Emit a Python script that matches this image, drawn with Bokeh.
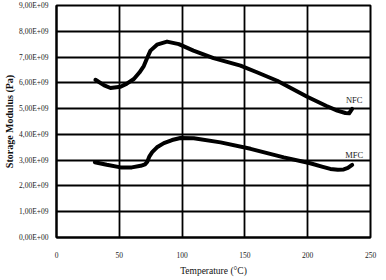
from bokeh.plotting import figure
from bokeh.models import CustomJSTickFormatter, FixedTicker, Range1d
from bokeh.embed import file_html
from bokeh.resources import INLINE
from bokeh.core.properties import value

nfc_temp = [31, 38, 43, 51, 56, 61.6, 66, 69.5, 72.5, 74.8, 80, 88, 97.4, 109, 125, 146.5, 160, 175.7, 199.6, 215, 223.5, 230, 233, 235.4]
nfc_mod = [6.12e9, 5.9e9, 5.8e9, 5.85e9, 5.97e9, 6.15e9, 6.4e9, 6.65e9, 7.0e9, 7.25e9, 7.48e9, 7.6e9, 7.5e9, 7.25e9, 6.96e9, 6.67e9, 6.4e9, 6.08e9, 5.46e9, 5.1e9, 4.92e9, 4.83e9, 4.82e9, 4.99e9]

mfc_temp = [30.5, 40, 51, 60, 67, 70.5, 72.2, 74, 76.2, 80, 85.5, 92, 98.7, 109.3, 130.6, 154.5, 181, 202, 212, 218, 224, 228.7, 232, 235.4]
mfc_mod = [2.92e9, 2.82e9, 2.72e9, 2.72e9, 2.78e9, 2.84e9, 2.93e9, 3.15e9, 3.31e9, 3.5e9, 3.66e9, 3.78e9, 3.86e9, 3.85e9, 3.69e9, 3.44e9, 3.11e9, 2.88e9, 2.74e9, 2.66e9, 2.63e9, 2.64e9, 2.7e9, 2.82e9]

x_ticks = [0, 50, 100, 150, 200, 250]
y_ticks = [0, 1e9, 2e9, 3e9, 4e9, 5e9, 6e9, 7e9, 8e9, 9e9]
series_labels = ["NFC", "MFC"]
label_pos_t = [237, 237]
label_pos_v = [5.35e9, 3.2e9]

FONT = "Liberation Serif"

p = figure(width=386, height=280, output_backend="svg", toolbar_location=None,
           x_range=Range1d(0, 250), y_range=Range1d(0, 9e9),
           min_border_left=56, min_border_right=16, min_border_top=5, min_border_bottom=43)
p.background_fill_color = "white"
p.border_fill_color = "white"
p.outline_line_color = "black"
p.outline_line_width = 2

p.xaxis.ticker = FixedTicker(ticks=x_ticks)
p.yaxis.ticker = FixedTicker(ticks=y_ticks)
p.yaxis.formatter = CustomJSTickFormatter(code="""
    var v = (tick/1e9).toFixed(2).replace('.', ',');
    return v + (tick == 0 ? 'E+00' : 'E+09');
""")

for ax in (p.xaxis[0], p.yaxis[0]):
    ax.axis_line_color = "black"
    ax.axis_line_width = 2
    ax.major_tick_line_color = None
    ax.minor_tick_line_color = None
    ax.major_label_text_font = FONT
    ax.major_label_text_font_size = "7.5px"
    ax.major_label_text_color = "#222222"
    ax.axis_label_text_font = FONT
    ax.axis_label_text_font_style = "normal"
    ax.axis_label_text_color = "#111111"

p.xaxis.axis_label = "Temperature (°C)"
p.xaxis.axis_label_text_font_size = "9.5px"
p.xaxis.major_label_standoff = 8
p.xaxis.axis_label_standoff = 5
p.yaxis.axis_label = "Storage Modulus (Pa)"
p.yaxis.axis_label_text_font_size = "10px"
p.yaxis.axis_label_text_font_style = "bold"
p.yaxis.major_label_standoff = 2
p.yaxis.axis_label_standoff = 1

p.xgrid.ticker = FixedTicker(ticks=x_ticks)
p.ygrid.ticker = FixedTicker(ticks=y_ticks)
p.grid.grid_line_color = "black"
p.grid.grid_line_width = 1.8
p.grid.grid_line_alpha = 1.0

p.line(nfc_temp, nfc_mod, line_color="black", line_width=4, line_join="round", line_cap="round")
p.line(mfc_temp, mfc_mod, line_color="black", line_width=4, line_join="round", line_cap="round")

p.text(label_pos_t, label_pos_v, text=series_labels, text_font=value(FONT),
       text_font_size="8.5px", text_align="center", text_baseline="middle", text_color="#222222")

open("out.html", "w").write(file_html(p, INLINE))
